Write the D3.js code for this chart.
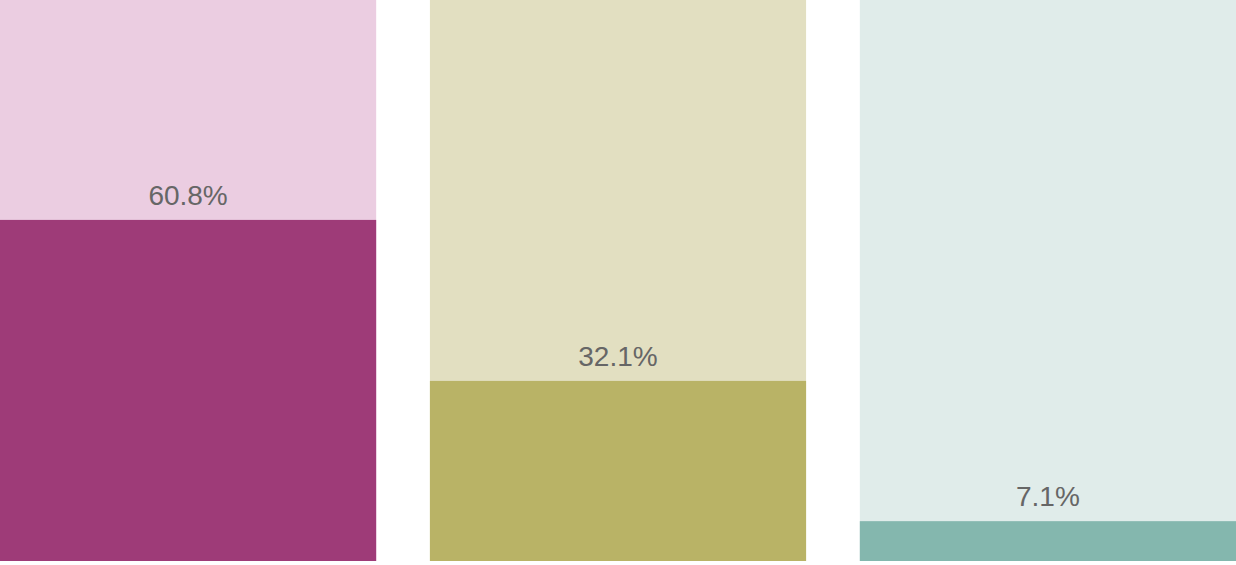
<!DOCTYPE html>
<html>
<head>
<meta charset="utf-8">
<script src="https://cdn.jsdelivr.net/npm/d3@7"></script>
<style>
  html, body { margin: 0; padding: 0; background: #fff; }
  svg { display: block; }
</style>
</head>
<body>
<div id="chart"></div>
<script>
const categories = ["A", "B", "C"];
const values = [60.8, 32.1, 7.1];
const labels = ["60.8%", "32.1%", "7.1%"];
const darkColors = ["#9e3b78", "#b9b366", "#84b7ae"];
const lightColors = ["#ebcde1", "#e2dfc1", "#e0ecea"];

let width = 1236,
  height = 565,
  margin = {top: 0, right: 0, bottom: 4, left: 0};

let svg = d3.select("#chart")
  .append("svg")
  .attr("width", width)
  .attr("height", height);

let x = d3.scaleBand()
  .domain(categories)
  .range([margin.left, width - margin.right])
  .paddingInner(0.125);

let y = d3.scaleLinear()
  .domain([0, 100])
  .range([height - margin.bottom, margin.top]);

let data = categories.map((c, i) => ({cat: c, value: values[i], label: labels[i], dark: darkColors[i], light: lightColors[i]}));

// full-height background per column
svg.selectAll("rect.bg")
  .data(data)
  .enter().append("rect")
  .attr("class", "bg")
  .attr("x", d => x(d.cat))
  .attr("y", y(100))
  .attr("width", x.bandwidth())
  .attr("height", y(0) - y(100))
  .attr("fill", d => d.light);

svg.selectAll("rect.bar")
  .data(data)
  .enter().append("rect")
  .attr("class", "bar")
  .attr("x", d => x(d.cat))
  .attr("y", d => y(d.value))
  .attr("width", x.bandwidth())
  .attr("height", d => y(0) - y(d.value))
  .attr("fill", d => d.dark);

svg.selectAll("text.label")
  .data(data)
  .enter().append("text")
  .attr("class", "label")
  .attr("x", d => x(d.cat) + x.bandwidth() / 2)
  .attr("y", d => y(d.value) - 15)
  .attr("text-anchor", "middle")
  .style("font-family", "'Liberation Sans', Arial, sans-serif")
  .style("font-size", "28px")
  .attr("fill", "#666666")
  .text(d => d.label);
</script>
</body>
</html>
